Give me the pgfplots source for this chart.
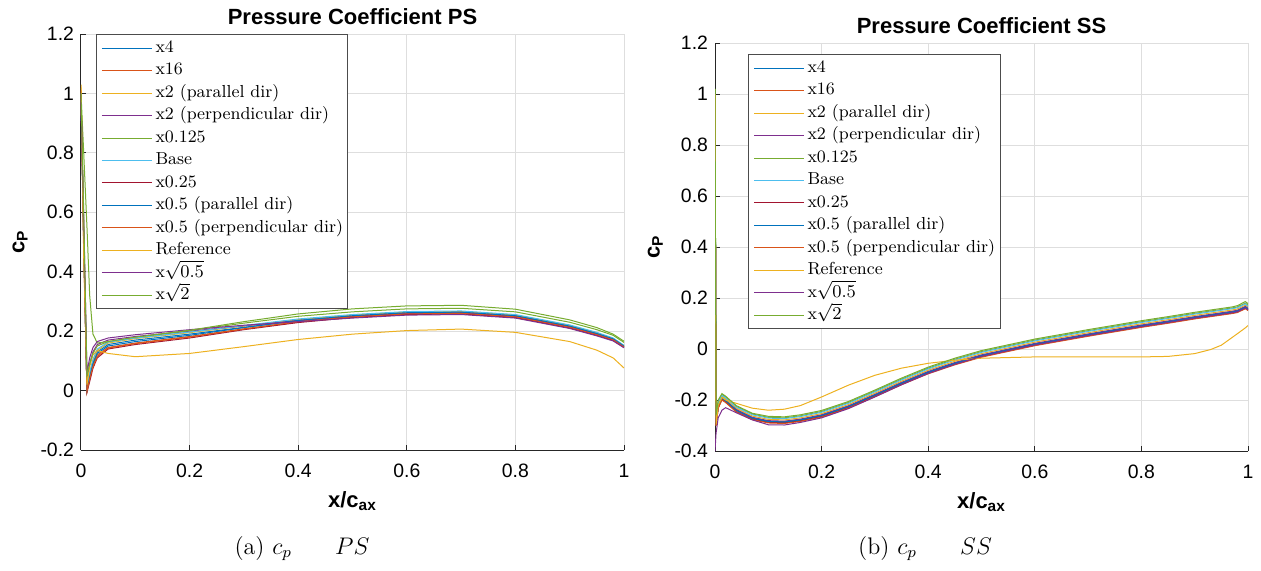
\documentclass[border=0pt]{standalone}
\usepackage{fontspec}
\usepackage{pgfplots}
\usepackage{pgfplotstable}
\pgfplotsset{compat=1.18}
\newfontfamily\hv{Liberation Sans}
\definecolor{mB}{rgb}{0,0.447,0.741}
\definecolor{mO}{rgb}{0.85,0.325,0.098}
\definecolor{mY}{rgb}{0.929,0.694,0.125}
\definecolor{mP}{rgb}{0.494,0.184,0.556}
\definecolor{mG}{rgb}{0.466,0.674,0.188}
\definecolor{mC}{rgb}{0.301,0.745,0.933}
\definecolor{mR}{rgb}{0.635,0.078,0.184}

\pgfplotstableread{
x     s1     s2     s3     s4     s5     s6     s7     s8     s9     s10    s11    s12
0     1.00   1.01   1.02   0.98   1.00   1.00   0.99   1.00   1.01   1.03   0.97   1.00
0.005 0.50   0.50   0.52   0.55   0.80   0.50   0.48   0.50   0.50   0.45   0.58   0.60
0.011 0.00  -0.005  0.01   0.04   0.55   0.01  -0.005  0.00  -0.003  0.02   0.06   0.05
0.016 0.05   0.04   0.06   0.09   0.32   0.06   0.03   0.045  0.04   0.08   0.11   0.09
0.022 0.095  0.085  0.10   0.13   0.19   0.105  0.075  0.09   0.08   0.12   0.145  0.125
0.03  0.13   0.12   0.135  0.155  0.16   0.14   0.11   0.125  0.115  0.135  0.165  0.15
0.05  0.155  0.145  0.16   0.17   0.165  0.163  0.14   0.15   0.143  0.125  0.177  0.165
0.1   0.17   0.16   0.175  0.182  0.178  0.177  0.155  0.165  0.158  0.114  0.188  0.18
0.2   0.19   0.182  0.195  0.20   0.202  0.197  0.177  0.186  0.18   0.125  0.205  0.203
0.3   0.213  0.208  0.217  0.218  0.227  0.219  0.205  0.212  0.207  0.148  0.22   0.232
0.4   0.235  0.231  0.239  0.236  0.25   0.241  0.229  0.236  0.232  0.172  0.232  0.258
0.5   0.25   0.247  0.254  0.25   0.265  0.256  0.246  0.252  0.248  0.19   0.244  0.275
0.6   0.26   0.257  0.264  0.26   0.275  0.266  0.256  0.262  0.258  0.202  0.254  0.285
0.7   0.262  0.259  0.266  0.262  0.277  0.268  0.258  0.264  0.26   0.207  0.256  0.287
0.8   0.25   0.247  0.254  0.25   0.265  0.256  0.246  0.252  0.248  0.196  0.244  0.274
0.9   0.215  0.212  0.219  0.215  0.23   0.221  0.211  0.217  0.213  0.165  0.209  0.238
0.95  0.19   0.187  0.194  0.19   0.205  0.196  0.186  0.192  0.188  0.136  0.184  0.212
0.98  0.172  0.17   0.175  0.172  0.186  0.177  0.169  0.174  0.171  0.11   0.167  0.19
1.0   0.148  0.146  0.151  0.148  0.162  0.152  0.146  0.15   0.147  0.076  0.144  0.166
}\PStab

\pgfplotstableread{
x     s1     s2     s3     s4     s5     s6     s7     s8     s9     s10    s11    s12
0     1.00   1.00   1.00   0.98   1.02   1.00   0.99   1.00   1.00   1.00  -0.40   1.02
0.002 -0.29 -0.285 -0.27  -0.30  -0.26  -0.27  -0.30  -0.29  -0.30  -0.30  -0.33  -0.26
0.006 -0.225 -0.222 -0.215 -0.23 -0.205 -0.21 -0.23  -0.225 -0.232 -0.22  -0.27  -0.20
0.013 -0.192 -0.19 -0.185 -0.195 -0.178 -0.182 -0.198 -0.193 -0.20 -0.19 -0.24  -0.175
0.02  -0.202 -0.20 -0.196 -0.205 -0.188 -0.192 -0.208 -0.203 -0.21 -0.20 -0.23  -0.185
0.04  -0.24 -0.237 -0.232 -0.238 -0.225 -0.228 -0.245 -0.241 -0.247 -0.213 -0.25 -0.222
0.07  -0.272 -0.269 -0.263 -0.268 -0.255 -0.258 -0.275 -0.271 -0.277 -0.232 -0.278 -0.252
0.1   -0.286 -0.283 -0.276 -0.281 -0.268 -0.271 -0.288 -0.284 -0.29 -0.24 -0.297 -0.264
0.13  -0.288 -0.285 -0.278 -0.283 -0.27 -0.273 -0.29 -0.286 -0.292 -0.236 -0.298 -0.266
0.16  -0.28 -0.277 -0.27 -0.275 -0.262 -0.265 -0.282 -0.278 -0.284 -0.222 -0.288 -0.258
0.2   -0.263 -0.26 -0.253 -0.258 -0.245 -0.248 -0.265 -0.261 -0.267 -0.188 -0.27 -0.241
0.25  -0.228 -0.225 -0.218 -0.223 -0.21 -0.213 -0.23 -0.226 -0.232 -0.142 -0.234 -0.206
0.3   -0.183 -0.18 -0.173 -0.178 -0.165 -0.168 -0.185 -0.181 -0.187 -0.103 -0.188 -0.161
0.35  -0.136 -0.133 -0.126 -0.131 -0.118 -0.121 -0.138 -0.134 -0.14 -0.075 -0.14 -0.114
0.4   -0.093 -0.09 -0.083 -0.088 -0.075 -0.078 -0.095 -0.091 -0.097 -0.056 -0.096 -0.071
0.45  -0.058 -0.055 -0.048 -0.053 -0.04 -0.043 -0.06 -0.056 -0.062 -0.044 -0.06 -0.036
0.5   -0.028 -0.025 -0.018 -0.023 -0.01 -0.013 -0.03 -0.026 -0.032 -0.036 -0.029 -0.006
0.6   0.017  0.02   0.027  0.022  0.035  0.032  0.015  0.019  0.013 -0.031  0.016  0.039
0.7   0.054  0.057  0.064  0.059  0.072  0.069  0.052  0.056  0.05  -0.031  0.053  0.076
0.8   0.089  0.092  0.099  0.094  0.107  0.104  0.087  0.091  0.085 -0.031  0.088  0.111
0.85  0.105  0.108  0.115  0.110  0.123  0.120  0.103  0.107  0.101 -0.029  0.104  0.127
0.9   0.122  0.125  0.132  0.127  0.14   0.137  0.12   0.124  0.118 -0.018  0.121  0.144
0.93  0.131  0.134  0.141  0.136  0.149  0.146  0.129  0.133  0.127 -0.002  0.130  0.153
0.95  0.137  0.14   0.147  0.142  0.155  0.152  0.135  0.139  0.133  0.015  0.136  0.159
0.97  0.143  0.146  0.153  0.148  0.161  0.158  0.141  0.145  0.139  0.045  0.142  0.165
0.98  0.147  0.15   0.157  0.152  0.165  0.162  0.145  0.149  0.143  0.06   0.146  0.17
0.995 0.162  0.165  0.172  0.167  0.18   0.177  0.16   0.164  0.158  0.083  0.161  0.186
1.0   0.155  0.158  0.165  0.16   0.172  0.168  0.153  0.157  0.151  0.092  0.154  0.178
}\SStab

\pgfplotsset{cpstyle/.style={
  scale only axis,
  xmin=0, xmax=1,
  axis x line*=bottom, axis y line*=left,
  axis line style={-, black!85, line width=0.5pt},
  tick style={black!85, line width=0.5pt},
  tick align=inside,
  major tick length=2.5pt,
  grid=major,
  major grid style={black!13, line width=0.5pt},
  xtick={0,0.2,0.4,0.6,0.8,1},
  ticklabel style={font=\hv\fontsize{9.7}{11}\selectfont},
  /pgf/number format/assume math mode=true,
  xticklabel style={yshift=-3.3pt},
  title style={at={(0.5,1)}, anchor=base, yshift=-1pt, font=\hv\bfseries\fontsize{11}{13}\selectfont},
  xlabel style={at={(axis description cs:0.5,0)}, anchor=base, yshift=-28.5pt, font=\hv\bfseries\fontsize{11}{13}\selectfont},
  ylabel style={at={(axis description cs:-0.112,0.5)}, anchor=center, font=\hv\bfseries\fontsize{11}{13}\selectfont},
  xlabel={x/c\textsubscript{ax}},
  ylabel={c\textsubscript{P}},
  legend cell align=left,
  legend image code/.code={\draw[##1] (0pt,0pt) -- (25pt,0pt);},
  legend style={font=\fontsize{8.7}{10.5}\selectfont, draw=black!70, line width=0.5pt, inner sep=2.5pt, row sep=2.53pt, column sep=1.5pt, nodes={inner sep=0pt, text height=6.5pt, text depth=2.2pt}},
  every axis plot/.append style={line width=0.5pt},
}}

\begin{document}
\begin{tikzpicture}
\path[use as bounding box] (0,0) rectangle (630.5pt,-285pt);

\begin{axis}[cpstyle,
  at={(40.5pt,-225pt)}, anchor=south west,
  width=271.5pt, height=208pt,
  ymin=-0.2, ymax=1.2,
  ytick={-0.2,0,0.2,0.4,0.6,0.8,1,1.2},
  title={Pressure Coefficient PS},
  legend style={at={(axis description cs:0,1)}, anchor=north west, xshift=7.5pt},
]
\addplot[mB] table[x=x,y=s1]{\PStab};
\addplot[mO] table[x=x,y=s2]{\PStab};
\addplot[mY] table[x=x,y=s3]{\PStab};
\addplot[mP] table[x=x,y=s4]{\PStab};
\addplot[mG] table[x=x,y=s5]{\PStab};
\addplot[mC] table[x=x,y=s6]{\PStab};
\addplot[mR] table[x=x,y=s7]{\PStab};
\addplot[mB] table[x=x,y=s8]{\PStab};
\addplot[mO] table[x=x,y=s9]{\PStab};
\addplot[mY] table[x=x,y=s10]{\PStab};
\addplot[mP] table[x=x,y=s11]{\PStab};
\addplot[mG] table[x=x,y=s12]{\PStab};
\legend{x4,x16,x2 (parallel dir),x2 (perpendicular dir),x0.125,Base,x0.25,x0.5 (parallel dir),x0.5 (perpendicular dir),Reference,x$\sqrt{0.5}$,x$\sqrt{2}$}
\end{axis}

\begin{axis}[cpstyle,
  at={(357.5pt,-225.5pt)}, anchor=south west,
  width=266.5pt, height=204pt,
  ymin=-0.4, ymax=1.2,
  ytick={-0.4,-0.2,0,0.2,0.4,0.6,0.8,1,1.2},
  title={Pressure Coefficient SS},
  legend style={at={(axis description cs:0,1)}, anchor=north west, xshift=16.5pt, yshift=-5.5pt},
]
\addplot[mB] table[x=x,y=s1]{\SStab};
\addplot[mO] table[x=x,y=s2]{\SStab};
\addplot[mY] table[x=x,y=s3]{\SStab};
\addplot[mP] table[x=x,y=s4]{\SStab};
\addplot[mG] table[x=x,y=s5]{\SStab};
\addplot[mC] table[x=x,y=s6]{\SStab};
\addplot[mR] table[x=x,y=s7]{\SStab};
\addplot[mB] table[x=x,y=s8]{\SStab};
\addplot[mO] table[x=x,y=s9]{\SStab};
\addplot[mY] table[x=x,y=s10]{\SStab};
\addplot[mP] table[x=x,y=s11]{\SStab};
\addplot[mG] table[x=x,y=s12]{\SStab};
\legend{x4,x16,x2 (parallel dir),x2 (perpendicular dir),x0.125,Base,x0.25,x0.5 (parallel dir),x0.5 (perpendicular dir),Reference,x$\sqrt{0.5}$,x$\sqrt{2}$}
\end{axis}

\node[anchor=base, font=\fontsize{12}{14}\selectfont] at (151pt,-277pt) {(a) $c_p\hskip1.8em PS$};
\node[anchor=base, font=\fontsize{12}{14}\selectfont] at (462.5pt,-277pt) {(b) $c_p\hskip1.8em SS$};
\end{tikzpicture}
\end{document}
